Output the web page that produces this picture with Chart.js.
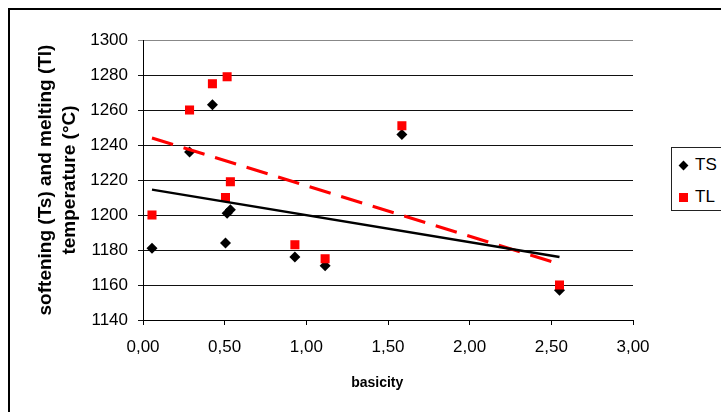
<!DOCTYPE html>
<html>
<head>
<meta charset="utf-8">
<script src="https://cdn.jsdelivr.net/npm/chart.js@4.4.1/dist/chart.umd.min.js"></script>
<style>
   body { margin: 0; background: #fff; }
   #wrap { position: relative; width: 721px; height: 412px; overflow: hidden; }
   #frame { position: absolute; left: 8px; top: 8px; width: 800px; height: 500px;
            border-left: 2px solid #000; border-top: 2px solid #000; }
   #legende { position: absolute; left: 671px; top: 147px; width: 70px; height: 62px;
              border: 1px solid #222; background: #fff;
              font-family: Arial, "Liberation Sans", sans-serif; font-size: 17px; color: #000; }
   .item { position: absolute; left: 23px; line-height: 20px; }
   .losange { position: absolute; left: 8px; width: 7px; height: 7px; background: #000; transform: rotate(45deg); }
   .carre { position: absolute; left: 7px; width: 9px; height: 9px; background: #f00; }
</style>
</head>
<body>
<div id="wrap">
   <div id="frame"></div>
   <canvas id="graphique" width="721" height="412"></canvas>
   <div id="legende">
      <div class="losange" style="top:14px"></div><div class="item" style="top:7px">TS</div>
      <div class="carre" style="top:45px"></div><div class="item" style="top:39px">TL</div>
   </div>
</div>
<script>
const basicite = [0.055, 0.285, 0.425, 0.505, 0.515, 0.535, 0.93, 1.115, 1.585, 2.55];
const temp_TS = [1181, 1236, 1263, 1184, 1201, 1203, 1176, 1171, 1246, 1157];
const temp_TL = [1200, 1260, 1275, 1210, 1279, 1219, 1183, 1175, 1251, 1160];

// tendances (debut / fin)
const tendance_x = [0.055, 2.55];
const tendance_TS = [1214.5, 1176];
const tendance_TL = [1244, 1172];

const ticks_x = [0, 0.5, 1, 1.5, 2, 2.5, 3];
const ticks_y = [1140, 1160, 1180, 1200, 1220, 1240, 1260, 1280, 1300];

const POLICE = 'Arial, "Liberation Sans", sans-serif';

function points(xs, ys) {
   return xs.map((x, i) => ({ x: x, y: ys[i] }));
}

// titre de l'axe x, un peu a gauche du centre comme dans Excel
const titreX = {
   id: 'titreX',
   afterDraw(chart) {
      const c = chart.ctx;
      const area = chart.chartArea;
      c.save();
      c.font = 'bold 14px ' + POLICE;
      c.fillStyle = '#000';
      c.textAlign = 'center';
      c.textBaseline = 'middle';
      c.fillText('basicity', area.left + (area.right - area.left) * 0.478, 383);
      c.restore();
   }
};

const ctx = document.getElementById('graphique');

const myChart = new Chart(ctx, {
   type: 'scatter',
   data: {
      datasets: [
         {
            label: 'TS trend',
            data: points(tendance_x, tendance_TS),
            showLine: true,
            borderColor: '#000',
            borderWidth: 2.5,
            pointRadius: 0,
            order: -2
         },
         {
            label: 'TL trend',
            data: points(tendance_x, tendance_TL),
            showLine: true,
            borderColor: '#ff0000',
            borderWidth: 3,
            borderDash: [22, 11],
            pointRadius: 0,
            order: -1
         },
         {
            label: 'TL',
            data: points(basicite, temp_TL),
            pointStyle: 'rect',
            pointRadius: 6.4,
            backgroundColor: '#ff0000',
            borderColor: '#ff0000',
            borderWidth: 0,
            order: 0
         },
         {
            label: 'TS',
            data: points(basicite, temp_TS),
            pointStyle: 'rectRot',
            pointRadius: 5.5,
            backgroundColor: '#000',
            borderColor: '#000',
            borderWidth: 0,
            order: 1
         }
      ]
   },
   options: {
      responsive: false,
      devicePixelRatio: 1,
      animation: false,
      events: [],
      layout: {
         padding: { top: 40, right: 88, left: 0, bottom: 0 }
      },
      plugins: {
         legend: { display: false },
         tooltip: { enabled: false }
      },
      scales: {
         x: {
            type: 'linear',
            min: 0,
            max: 3,
            afterBuildTicks: axis => { axis.ticks = ticks_x.map(v => ({ value: v })); },
            afterFit: axis => { axis.height = 92; },
            ticks: {
               color: '#000',
               padding: 12,
               maxRotation: 0,
               font: { family: POLICE, size: 17 },
               callback: v => v.toFixed(2).replace('.', ',')
            },
            grid: {
               drawOnChartArea: false,
               color: '#000',
               tickLength: 5
            },
            border: { color: '#000', width: 1 }
         },
         y: {
            min: 1140,
            max: 1300,
            afterBuildTicks: axis => { axis.ticks = ticks_y.map(v => ({ value: v })); },
            afterFit: axis => { axis.width = 143; },
            ticks: {
               color: '#000',
               padding: 10,
               font: { family: POLICE, size: 17 },
               callback: v => String(v)
            },
            grid: {
               color: c => (c.tick && c.tick.value === 1300) ? '#888' : '#111',
               tickLength: 5
            },
            border: { color: '#000', width: 1 },
            title: {
               display: true,
               text: ['softening (Ts) and melting (Tl)', 'temperature (°C)'],
               color: '#000',
               font: { family: POLICE, size: 19, weight: 'bold', lineHeight: 1.26 },
               padding: { top: 34, bottom: 0 }
            }
         }
      }
   },
   plugins: [titreX]
});
</script>
</body>
</html>
